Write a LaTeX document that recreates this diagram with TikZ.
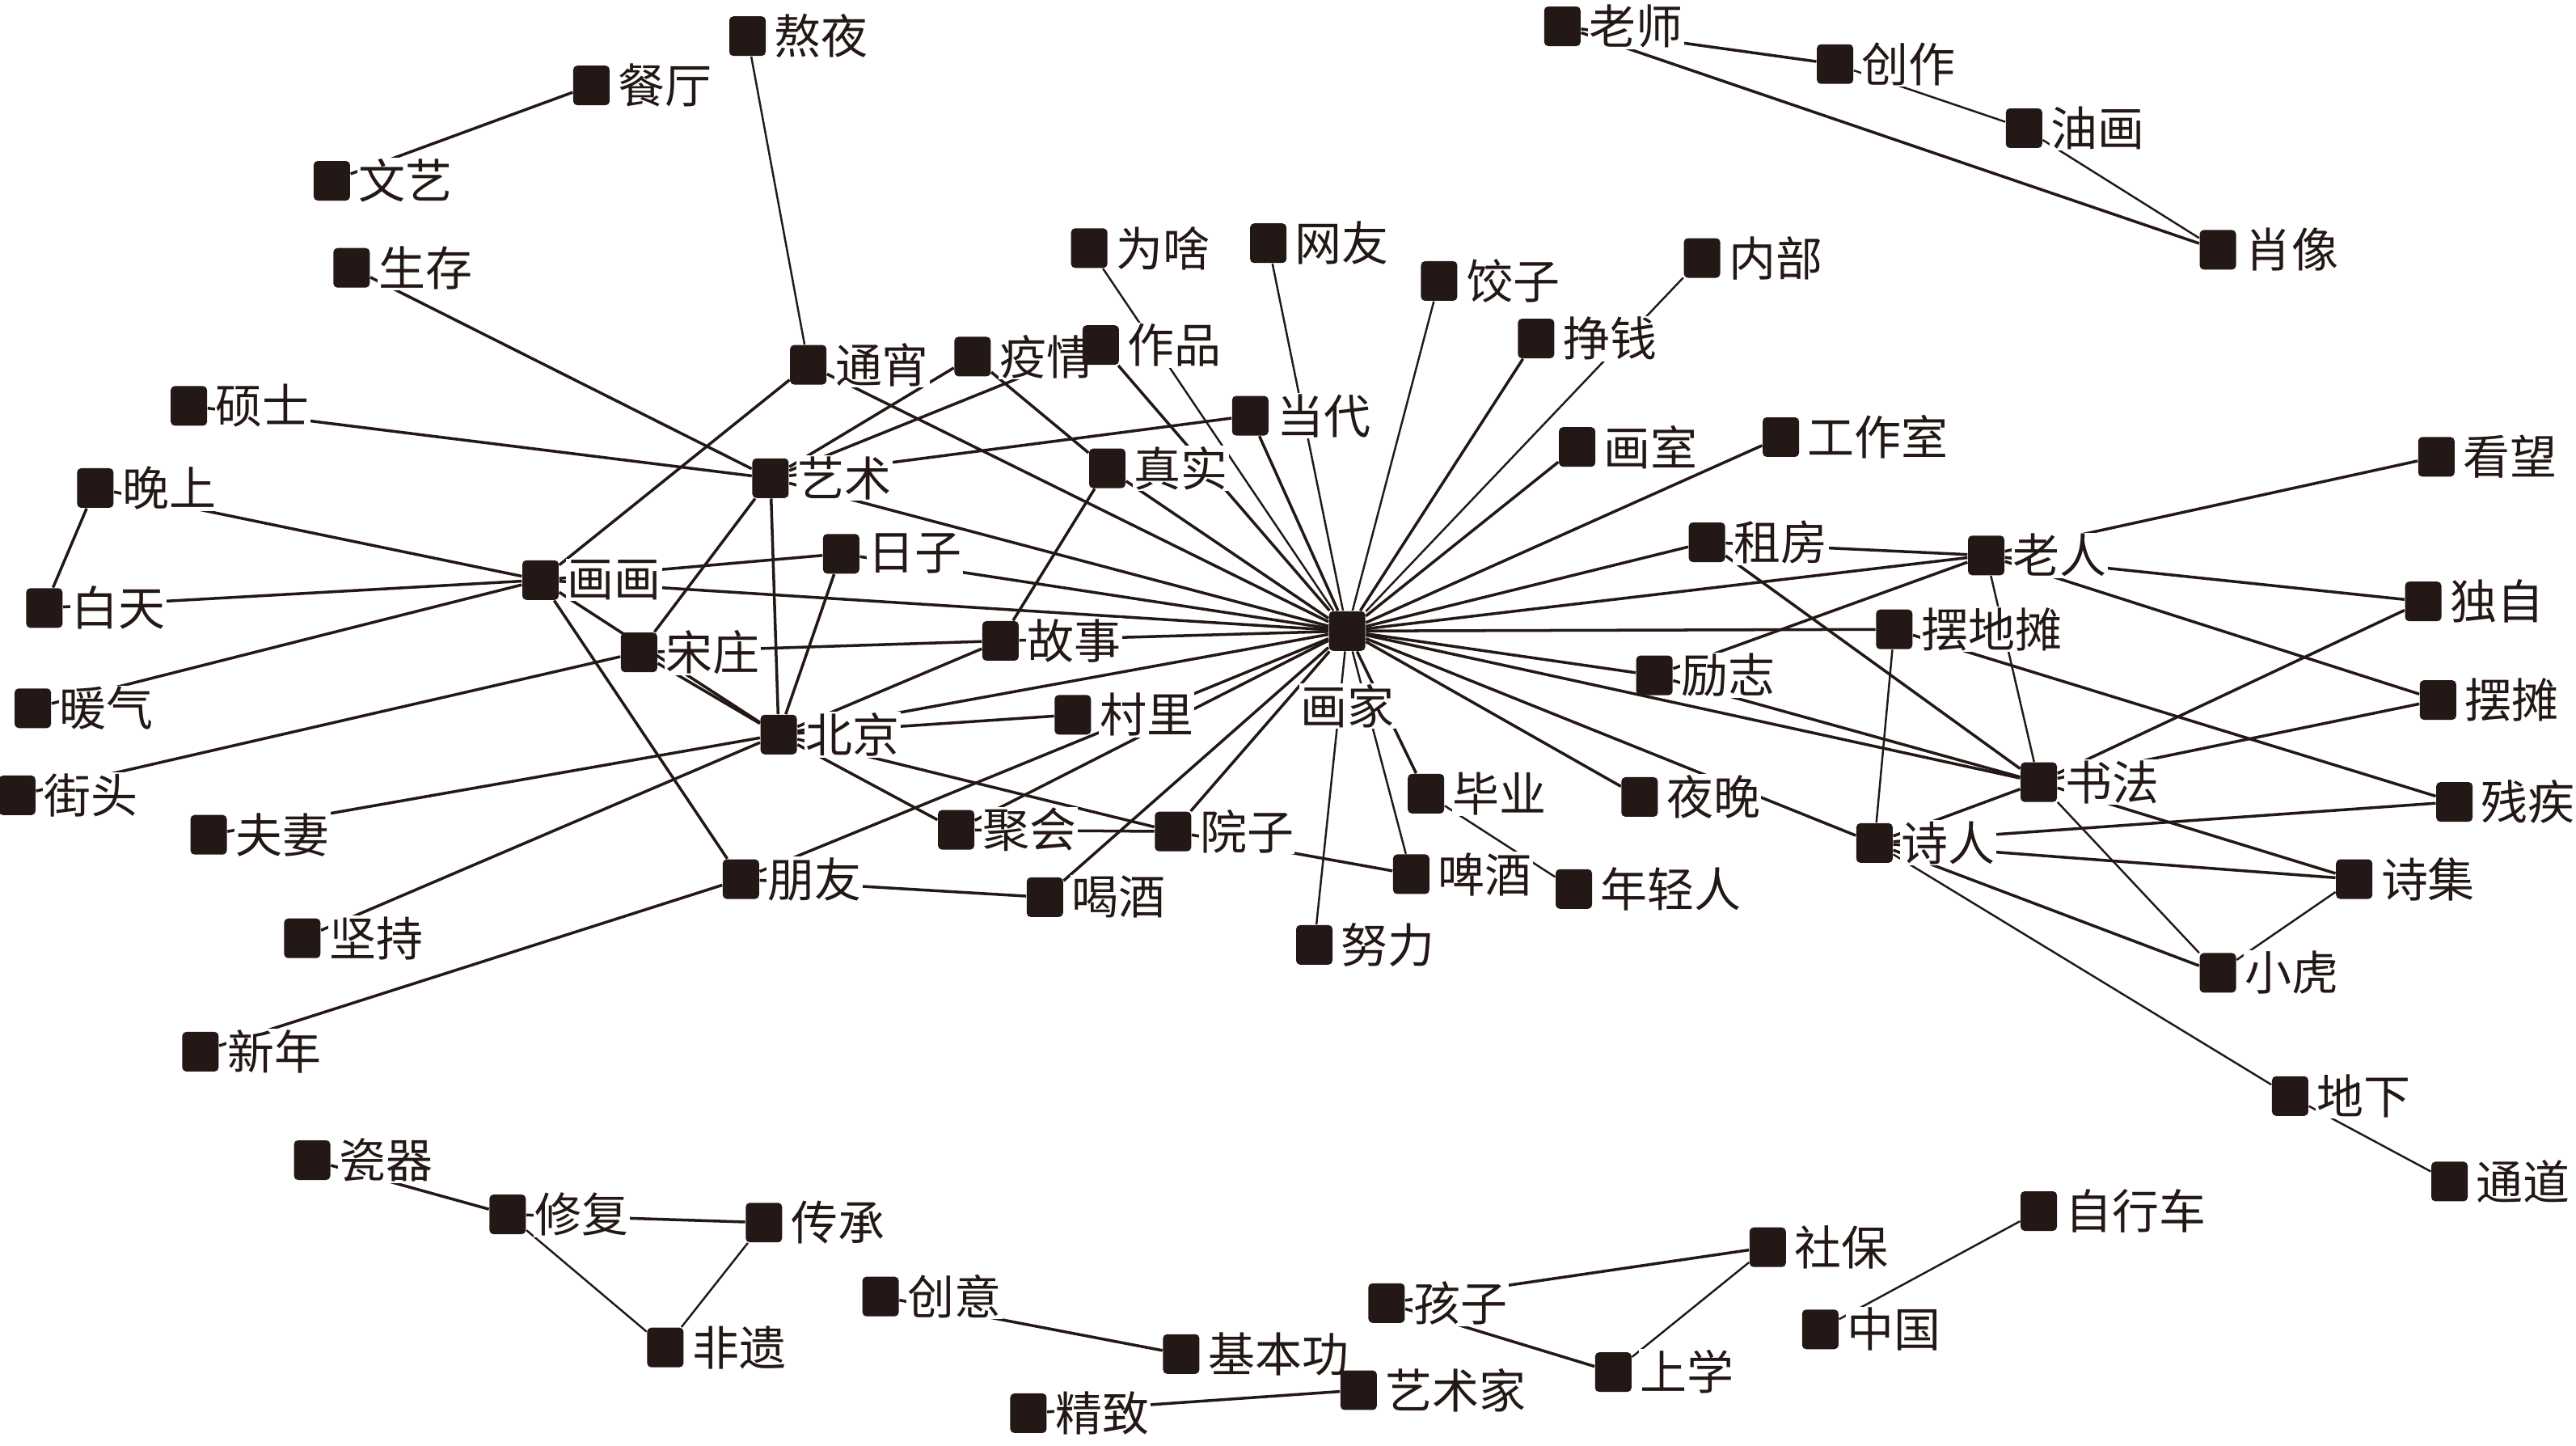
\documentclass[tikz,border=0pt]{standalone}
\usepackage{fontspec}
\newfontfamily\cjk{Noto Sans CJK SC}
\definecolor{ink}{RGB}{35,24,21}
\pgfdeclarelayer{edges}
\pgfsetlayers{edges,main}
\tikzset{
  sq/.style={rectangle, rounded corners=0.05cm, minimum width=0.45cm, minimum height=0.49cm, inner sep=0pt, fill=ink, draw=none},
  lab/.style={anchor=west, fill=white, inner sep=0.4pt, text=ink, font=\cjk\fontsize{16.5pt}{16.5pt}\selectfont},
  ed/.style={draw=ink, line width=1.0pt},
  th/.style={draw=ink, line width=0.7pt}
}
\newcommand\mykw[4]{\node[sq] (#1) at (#2,#3) {};\node[lab] (#1L) at ([xshift=0.08cm]#1.east) {#4};}
\begin{document}
\begin{tikzpicture}[x=0.020319cm, y=-0.020319cm]
\useasboundingbox (0,0) rectangle (1568,879.5);
% nodes
\mykw{aoye}{455}{22}{熬夜}
\mykw{canting}{360}{52}{餐厅}
\mykw{wenyi}{202}{110}{文艺}
\mykw{shengcun}{214}{163}{生存}
\mykw{shuoshi}{115}{247}{硕士}
\mykw{wanshang}{58}{297}{晚上}
\mykw{baitian}{27}{370}{白天}
\mykw{nuanqi}{20}{431}{暖气}
\mykw{jietou}{10.5}{484}{街头}
\mykw{fuqi}{127}{508}{夫妻}
\mykw{jianchi}{184}{571}{坚持}
\mykw{xinnian}{122}{640}{新年}
\mykw{huahua}{329}{353}{画画}
\mykw{songzhuang}{389}{397}{宋庄}
\mykw{beijing}{474}{447}{北京}
\mykw{yishu}{469}{291}{艺术}
\mykw{tongxiao}{492}{222}{通宵}
\mykw{yiqing}{592}{217}{疫情}
\mykw{zuopin}{670}{210}{作品}
\mykw{weisha}{663}{151}{为啥}
\mykw{wangyou}{772}{148}{网友}
\mykw{jiaozi}{876}{171}{饺子}
\mykw{neibu}{1036}{157}{内部}
\mykw{zhengqian}{935}{206}{挣钱}
\mykw{dangdai}{761}{253}{当代}
\mykw{zhenshi}{674}{285}{真实}
\mykw{huashi}{960}{272}{画室}
\mykw{gongzuoshi}{1084}{266}{工作室}
\mykw{rizi}{512}{337}{日子}
\mykw{gushi}{609}{390}{故事}
\mykw{cunli}{653}{435}{村里}
\node[sq] (huajia) at (820,384) {};
\node[lab, anchor=center] (huajiaL) at ([yshift=-0.93cm]huajia.center) {画家};
\mykw{juhui}{582}{505}{聚会}
\mykw{yuanzi}{714}{506}{院子}
\mykw{hejiu}{636}{546}{喝酒}
\mykw{pengyou}{451}{535}{朋友}
\mykw{biye}{868}{483}{毕业}
\mykw{pijiu}{859}{532}{啤酒}
\mykw{nuli}{800}{575}{努力}
\mykw{nianqingren}{958}{541}{年轻人}
\mykw{yewan}{998}{485}{夜晚}
\mykw{lizhi}{1007}{411}{励志}
\mykw{zufang}{1039}{330}{租房}
\mykw{baiditan}{1153}{383}{摆地摊}
\mykw{laoren}{1209}{338}{老人}
\mykw{kanwang}{1483}{278}{看望}
\mykw{duzi}{1475}{366}{独自}
\mykw{baitan}{1484}{426}{摆摊}
\mykw{canji}{1494}{488}{残疾}
\mykw{shufa}{1241}{476}{书法}
\mykw{shiren}{1141}{513}{诗人}
\mykw{shiji}{1433}{535}{诗集}
\mykw{xiaohu}{1350}{592}{小虎}
\mykw{dixia}{1394}{667}{地下}
\mykw{tongdao}{1491}{719}{通道}
\mykw{laoshi}{951}{16}{老师}
\mykw{chuangzuo}{1117}{39}{创作}
\mykw{youhua}{1232}{78}{油画}
\mykw{xiaoxiang}{1350}{152}{肖像}
\mykw{ciqi}{190}{706}{瓷器}
\mykw{xiufu}{309}{739}{修复}
\mykw{chuancheng}{465}{744}{传承}
\mykw{feiyi}{405}{820}{非遗}
\mykw{chuangyi}{536}{789}{创意}
\mykw{jibengong}{719}{824}{基本功}
\mykw{jingzhi}{626}{860}{精致}
\mykw{yishujia}{827}{846}{艺术家}
\mykw{haizi}{844}{793}{孩子}
\mykw{shebao}{1076}{759}{社保}
\mykw{shangxue}{982}{835}{上学}
\mykw{zixingche}{1241}{737}{自行车}
\mykw{zhongguo}{1108}{809}{中国}
% edges
\begin{pgfonlayer}{edges}
\draw[ed] (canting) -- (wenyi);
\draw[th] (aoye) -- (tongxiao);
\draw[ed] (shengcun) -- (yishu);
\draw[ed] (shuoshi) -- (yishu);
\draw[ed] (wanshang) -- (baitian);
\draw[ed] (wanshang) -- (huahua);
\draw[ed] (baitian) -- (huahua);
\draw[ed] (nuanqi) -- (huahua);
\draw[ed] (jietou) -- (songzhuang);
\draw[ed] (fuqi) -- (beijing);
\draw[ed] (jianchi) -- (beijing);
\draw[ed] (xinnian) -- (pengyou);
\draw[ed] (tongxiao) -- (huahua);
\draw[ed] (tongxiao) -- (huajia);
\draw[ed] (yiqing) -- (yishu);
\draw[ed] (zuopin) -- (yishu);
\draw[ed] (yishu) -- (dangdai);
\draw[ed] (yiqing) -- (zhenshi);
\draw[ed] (yishu) -- (huajia);
\draw[ed] (yishu) -- (beijing);
\draw[ed] (yishu) -- (songzhuang);
\draw[ed] (huahua) -- (rizi);
\draw[ed] (huahua) -- (huajia);
\draw[ed] (huahua) -- (beijing);
\draw[ed] (huahua) -- (pengyou);
\draw[ed] (songzhuang) -- (beijing);
\draw[ed] (songzhuang) -- (gushi);
\draw[ed] (rizi) -- (huajia);
\draw[ed] (rizi) -- (beijing);
\draw[ed] (zhenshi) -- (gushi);
\draw[ed] (zhenshi) -- (huajia);
\draw[ed] (gushi) -- (huajia);
\draw[ed] (beijing) -- (gushi);
\draw[ed] (beijing) -- (huajia);
\draw[ed] (beijing) -- (cunli);
\draw[ed] (beijing) -- (juhui);
\draw[ed] (beijing) -- (yuanzi);
\draw[ed] (juhui) -- (yuanzi);
\draw[ed] (juhui) -- (huajia);
\draw[ed] (pengyou) -- (huajia);
\draw[ed] (pengyou) -- (hejiu);
\draw[ed] (hejiu) -- (huajia);
\draw[ed] (yuanzi) -- (huajia);
\draw[ed] (yuanzi) -- (pijiu);
\draw[th] (weisha) -- (huajia);
\draw[th] (wangyou) -- (huajia);
\draw[ed] (zuopin) -- (huajia);
\draw[ed] (dangdai) -- (huajia);
\draw[th] (jiaozi) -- (huajia);
\draw[th] (neibu) -- (huajia);
\draw[ed] (zhengqian) -- (huajia);
\draw[ed] (huashi) -- (huajia);
\draw[ed] (gongzuoshi) -- (huajia);
\draw[ed] (zufang) -- (huajia);
\draw[ed] (laoren) -- (huajia);
\draw[ed] (baiditan) -- (huajia);
\draw[ed] (lizhi) -- (huajia);
\draw[ed] (shufa) -- (huajia);
\draw[ed] (shiren) -- (huajia);
\draw[ed] (yewan) -- (huajia);
\draw[ed] (biye) -- (huajia);
\draw[th] (pijiu) -- (huajia);
\draw[th] (nuli) -- (huajia);
\draw[th] (biye) -- (nianqingren);
\draw[ed] (zufang) -- (laoren);
\draw[ed] (zufang) -- (shufa);
\draw[ed] (lizhi) -- (laoren);
\draw[ed] (lizhi) -- (shufa);
\draw[ed] (laoren) -- (kanwang);
\draw[ed] (laoren) -- (duzi);
\draw[ed] (laoren) -- (baitan);
\draw[th] (laoren) -- (shufa);
\draw[th] (baiditan) -- (shiren);
\draw[ed] (baiditan) -- (canji);
\draw[ed] (shufa) -- (duzi);
\draw[ed] (shufa) -- (baitan);
\draw[ed] (shufa) -- (shiren);
\draw[ed] (shufa) -- (shiji);
\draw[th] (shufa) -- (xiaohu);
\draw[ed] (shiren) -- (canji);
\draw[ed] (shiren) -- (shiji);
\draw[ed] (shiren) -- (xiaohu);
\draw[th] (shiren) -- (dixia);
\draw[th] (shiji) -- (xiaohu);
\draw[th] (dixia) -- (tongdao);
\draw[ed] (laoshi) -- (chuangzuo);
\draw[ed] (laoshi) -- (xiaoxiang);
\draw[th] (chuangzuo) -- (youhua);
\draw[th] (youhua) -- (xiaoxiang);
\draw[ed] (ciqi) -- (xiufu);
\draw[ed] (xiufu) -- (chuancheng);
\draw[th] (xiufu) -- (feiyi);
\draw[th] (chuancheng) -- (feiyi);
\draw[ed] (chuangyi) -- (jibengong);
\draw[ed] (jingzhi) -- (yishujia);
\draw[ed] (haizi) -- (shebao);
\draw[ed] (haizi) -- (shangxue);
\draw[th] (shebao) -- (shangxue);
\draw[th] (zhongguo) -- (zixingche);
\end{pgfonlayer}
\end{tikzpicture}
\end{document}
